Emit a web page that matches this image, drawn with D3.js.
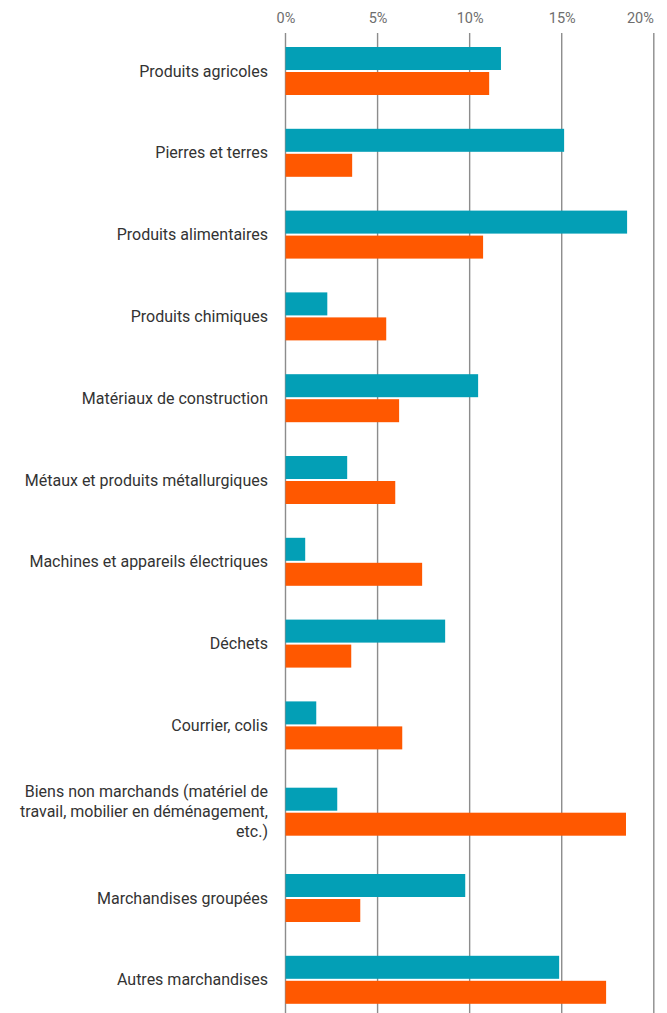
<!DOCTYPE html>
<html><head><meta charset="utf-8">
<script src="https://cdn.jsdelivr.net/npm/d3@7"></script>
<style>
html,body{margin:0;padding:0;background:#fff;}
svg{display:block;font-family:Roboto,"Noto Sans",sans-serif;}
</style></head>
<body>
<svg id="chart" width="667" height="1013"></svg>
<script>
const categories = [
  "Produits agricoles",
  "Pierres et terres",
  "Produits alimentaires",
  "Produits chimiques",
  "Matériaux de construction",
  "Métaux et produits métallurgiques",
  "Machines et appareils électriques",
  "Déchets",
  "Courrier, colis",
  "Biens non marchands (matériel de travail, mobilier en déménagement, etc.)",
  "Marchandises groupées",
  "Autres marchandises"
];
const seriesNames = ["Série 1", "Série 2"];
const series1 = [11.7, 15.13, 18.55, 2.27, 10.46, 3.35, 1.07, 8.67, 1.67, 2.81, 9.76, 14.86];
const series2 = [11.06, 3.62, 10.73, 5.47, 6.17, 5.96, 7.42, 3.57, 6.34, 18.49, 4.06, 17.41];
const tickValues = [0, 5, 10, 15, 20];
const tickLabels = ["0%", "5%", "10%", "15%", "20%"];
const colors = ["#039fb6", "#ff5800"];

const W = 667, H = 1013;
const svg = d3.select("#chart");
const x = d3.scaleLinear().domain([0, 20]).range([285.5, 653.8]);

const labelRight = 268, labelMaxW = 252, lineH = 20, fontSize = 16;

// measure & wrap labels
const meas = svg.append("text").attr("font-size", fontSize).attr("visibility", "hidden");
function wrap(str) {
  const words = str.split(" ");
  const lines = [];
  let cur = "";
  words.forEach(w => {
    const test = cur ? cur + " " + w : w;
    meas.text(test);
    if (meas.node().getComputedTextLength() > labelMaxW && cur) {
      lines.push(cur); cur = w;
    } else cur = test;
  });
  if (cur) lines.push(cur);
  return lines;
}
const wrapped = categories.map(wrap);
meas.remove();

const barBlock = 48;
const inner = d3.scaleBand().domain([0, 1]).range([0, barBlock]).paddingInner(0.08).paddingOuter(0);
const rowPad = 33.8;
const rows = [];
let yCur = 30.1;
wrapped.forEach((lines, i) => {
  const h = Math.max(barBlock, lines.length * 19) + rowPad;
  rows.push({ i, top: yCur, h, center: yCur + h / 2, lines, vals: [series1[i], series2[i]] });
  yCur += h;
});

// gridlines
const gridTop = 33;
svg.append("g").selectAll("line").data(tickValues).join("line")
  .attr("x1", d => x(d)).attr("x2", d => x(d))
  .attr("y1", gridTop).attr("y2", H)
  .attr("stroke", "#8c8c8c").attr("stroke-width", 1.4);

// top axis labels
const axis = d3.axisTop(x).tickValues(tickValues).tickFormat((d, i) => tickLabels[i]).tickSize(0).tickPadding(0);
const ag = svg.append("g").attr("transform", "translate(0,23)").call(axis);
ag.select(".domain").remove();
ag.selectAll("text").attr("font-size", 14.5).attr("fill", "#6e6e6e").attr("font-family", "Roboto, sans-serif")
  .attr("dy", 0)
  .each(function(d, i) {
    if (i === tickValues.length - 1) d3.select(this).attr("text-anchor", "end").attr("x", -0.5);
  });

// bars
const rowG = svg.append("g").selectAll("g").data(rows).join("g")
  .attr("transform", d => `translate(0,${d.center - barBlock / 2})`);
rowG.selectAll("rect").data(d => d.vals).join("rect")
  .attr("x", x(0))
  .attr("y", (d, j) => inner(j))
  .attr("height", inner.bandwidth())
  .attr("width", d => x(d) - x(0))
  .attr("fill", (d, j) => colors[j]);

// labels
const lab = svg.append("g").selectAll("text").data(rows).join("text")
  .attr("font-size", fontSize).attr("fill", "#333")
  .attr("text-anchor", "end")
  .attr("x", labelRight)
  .attr("y", d => d.center - (d.lines.length - 1) * lineH / 2);
lab.selectAll("tspan").data(d => d.lines).join("tspan")
  .attr("x", labelRight)
  .attr("dy", (d, i) => i === 0 ? "0.35em" : lineH)
  .text(d => d);
</script>
</body></html>
